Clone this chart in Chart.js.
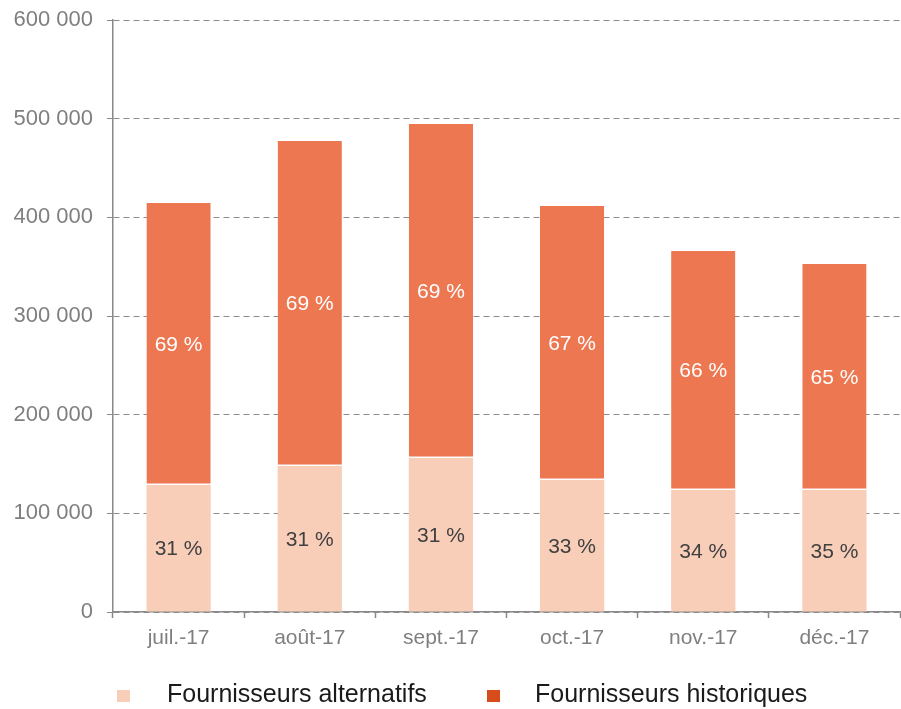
<!DOCTYPE html>
<html>
<head>
<meta charset="utf-8">
<script src="https://cdn.jsdelivr.net/npm/chart.js@4"></script>
<style>
    html, body { margin: 0; padding: 0; background: #fff; }
    #wrap { position: relative; width: 901px; height: 709px; }
    #legend { position: absolute; left: 0; top: 681px; width: 901px; height: 27px;
        font-family: 'Liberation Sans', Arial, sans-serif; font-size: 25px; line-height: 25px; color: #1a1a1a; }
    .item { position: absolute; top: 0; white-space: nowrap; }
    .box { position: absolute; top: 9px; width: 13px; height: 12px; }
</style>
</head>
<body>
<div id="wrap">
    <canvas id="chart" width="901" height="709"></canvas>
    <div id="legend"></div>
</div>
<script>
// DATA -----------------------------------------------------------------------

const months = ['juil.-17', 'août-17', 'sept.-17', 'oct.-17', 'nov.-17', 'déc.-17']
const alternatifs = [128700, 148000, 156000, 133800, 123600, 123600]
const historiques = [285800, 329400, 338600, 277700, 242300, 229100]
const pctAlternatifs = ['31 %', '31 %', '31 %', '33 %', '34 %', '35 %']
const pctHistoriques = ['69 %', '69 %', '69 %', '67 %', '66 %', '65 %']

// SETTINGS -------------------------------------------------------------------

const series = {
    alt: {name: 'Fournisseurs alternatifs', color: '#F8CEB8', legend: '#F8CEB8', label: '#404040'},
    hist: {name: 'Fournisseurs historiques', color: '#EC7751', legend: '#D64D1B', label: '#ffffff'}
}
const font = "'Liberation Sans', Arial, sans-serif"

// HELPERS --------------------------------------------------------------------

function formatThousands(v) {
    return String(v).replace(/\B(?=(\d{3})+(?!\d))/g, ' ')
}

// draws the percentage in the middle of each segment
const segmentLabels = {
    id: 'segmentLabels',
    afterDatasetsDraw(chart) {
        const ctx = chart.ctx
        ctx.save()
        ctx.font = `21px ${font}`
        ctx.textAlign = 'center'
        ctx.textBaseline = 'middle'
        chart.data.datasets.forEach((ds, i) => {
            chart.getDatasetMeta(i).data.forEach((bar, j) => {
                ctx.fillStyle = ds.labelColor
                ctx.fillText(ds.pct[j], bar.x, (bar.y + bar.base) / 2 + 1)
            })
        })
        ctx.restore()
    }
}

// CHART ----------------------------------------------------------------------

new Chart(document.getElementById('chart'), {
    type: 'bar',
    data: {
        labels: months,
        datasets: [
            {label: series.alt.name, data: alternatifs, pct: pctAlternatifs, labelColor: series.alt.label,
                backgroundColor: series.alt.color, borderWidth: 0},
            {label: series.hist.name, data: historiques, pct: pctHistoriques, labelColor: series.hist.label,
                backgroundColor: series.hist.color, borderColor: '#ffffff',
                borderWidth: {top: 0, left: 0, right: 0, bottom: 1.5}, borderSkipped: false}
        ]
    },
    options: {
        responsive: false,
        animation: false,
        layout: {padding: {top: 20, right: 1, bottom: 0, left: 0}},
        categoryPercentage: 1,
        barPercentage: 0.49,
        plugins: {
            legend: {display: false},
            tooltip: {enabled: false}
        },
        scales: {
            x: {
                stacked: true,
                afterFit: (scale) => { scale.height = 97 },
                grid: {offset: true, drawOnChartArea: false, tickLength: 6, tickColor: '#888888', tickWidth: 1.5},
                border: {color: '#888888', width: 1.5},
                ticks: {color: '#7f7f7f', font: {family: font, size: 21}, padding: 8}
            },
            y: {
                stacked: true,
                min: 0,
                max: 600000,
                afterFit: (scale) => {
                    scale.width = 113
                    scale.paddingTop = 0
                    scale.paddingBottom = 0
                },
                grid: {color: '#8c8c8c', lineWidth: 1, tickLength: 6, tickColor: '#888888',
                    tickBorderDash: [], drawTicks: true},
                border: {color: '#888888', width: 1.5, dash: [6, 4]},
                ticks: {stepSize: 100000, color: '#7f7f7f', font: {family: font, size: 22}, padding: 14,
                    callback: (v) => formatThousands(v)}
            }
        }
    },
    plugins: [segmentLabels]
});

// LEGEND ---------------------------------------------------------------------

const legend = document.getElementById('legend')
const legendPos = [{box: 117, text: 167, s: series.alt}, {box: 487, text: 535, s: series.hist}]
legendPos.forEach((p) => {
    const box = document.createElement('div')
    box.className = 'box'
    box.style.left = p.box + 'px'
    box.style.background = p.s.legend
    legend.appendChild(box)
    const item = document.createElement('div')
    item.className = 'item'
    item.style.left = p.text + 'px'
    item.textContent = p.s.name
    legend.appendChild(item)
})
</script>
</body>
</html>
